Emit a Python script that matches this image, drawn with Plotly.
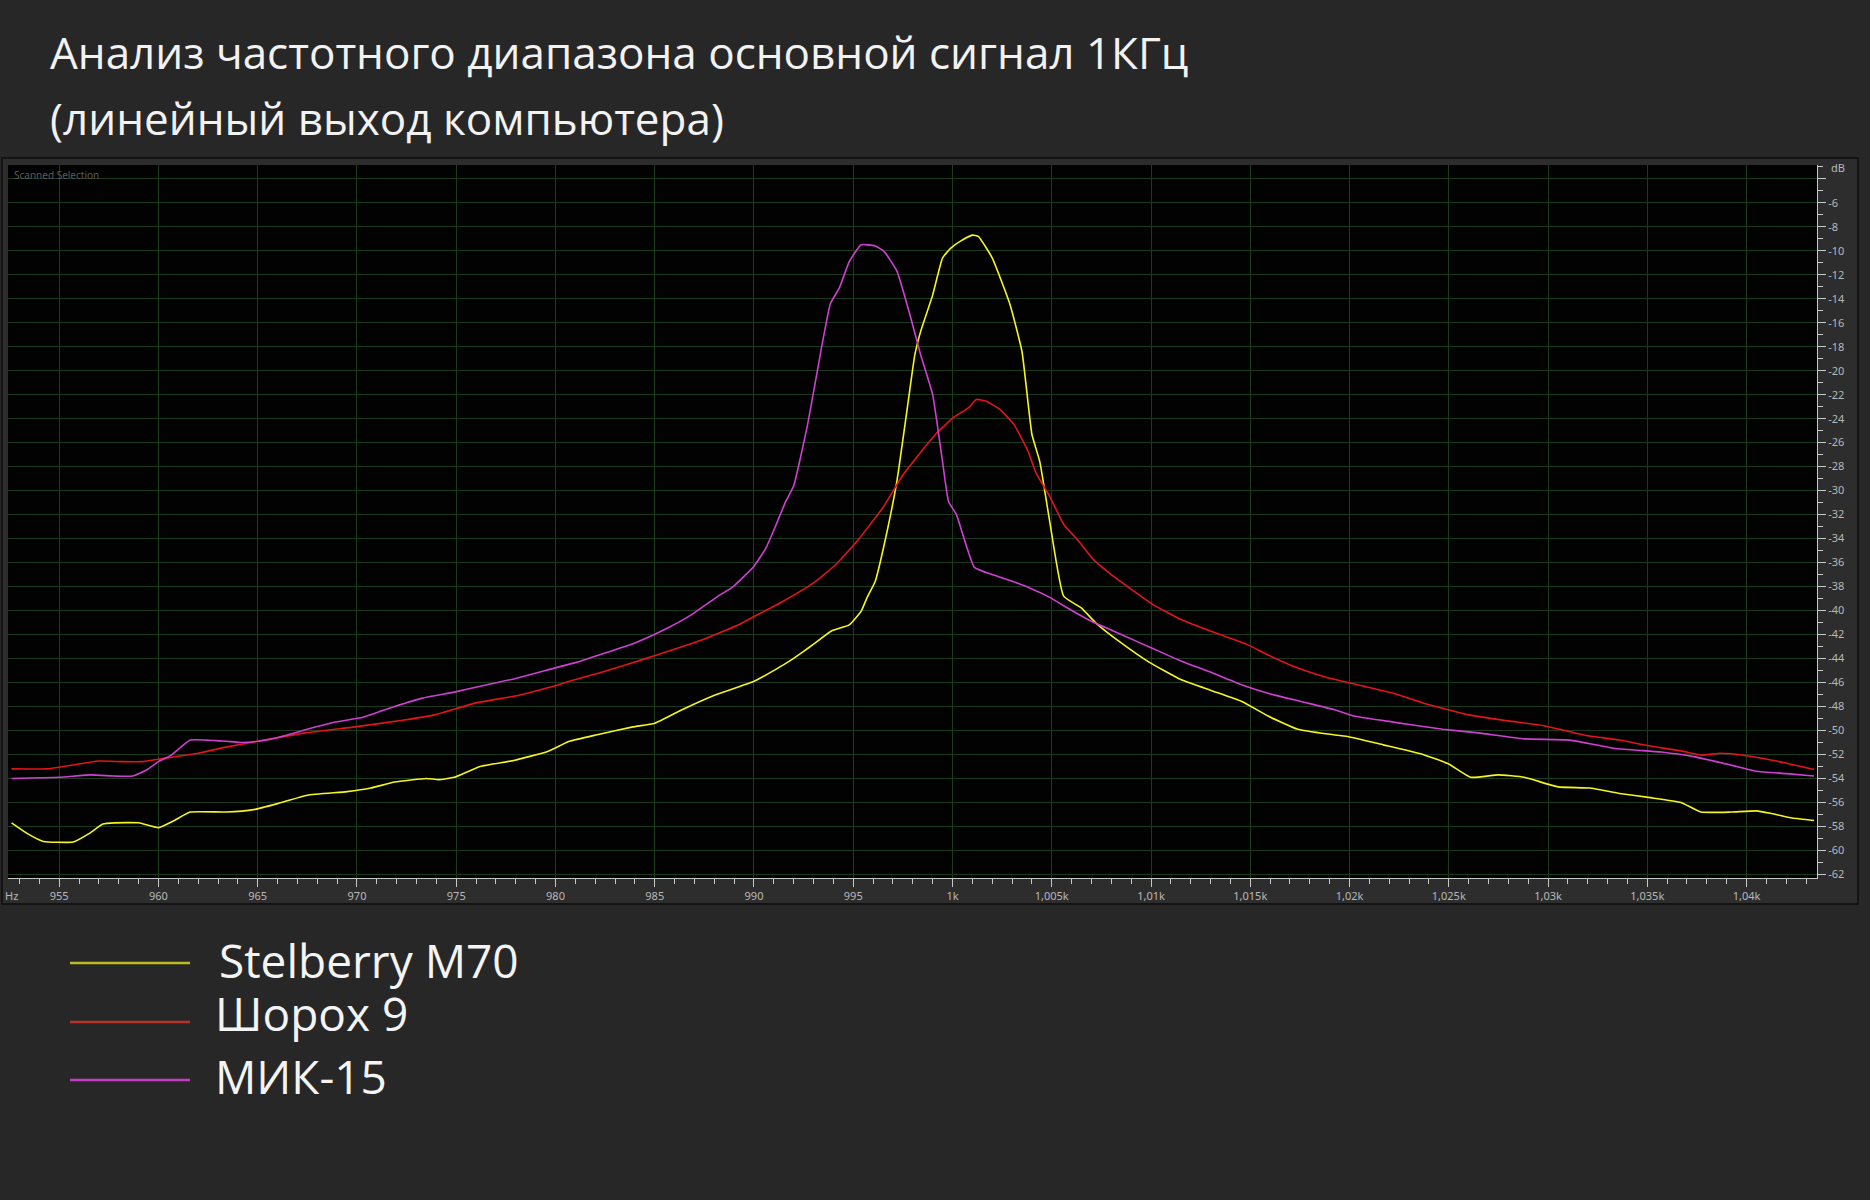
import plotly.graph_objects as go

# ---------------- data ----------------
f_stelberry = [952.6, 953.4, 954.2, 955.7, 956.5, 957.2, 957.8, 959.0, 960.0, 960.8, 961.6, 963.4, 964.8,
               966.0, 967.5, 969.5, 970.7, 971.9, 973.5, 974.1, 974.9, 976.2, 977.9, 979.6, 980.7, 982.1,
               983.9, 985.0, 986.4, 987.95, 990.0, 991.1, 991.8, 992.5, 993.0, 993.9, 994.8, 995.4, 995.7,
               996.1, 996.6, 997.2, 997.7, 998.1, 998.4, 999.0, 999.5, 999.9, 1000.4, 1001.0, 1001.3,
               1002.0, 1002.9, 1003.5, 1004.0, 1004.4, 1004.9, 1005.6, 1006.5, 1007.2, 1008.5, 1009.9,
               1011.5, 1013.1, 1014.6, 1015.9, 1017.4, 1018.9, 1019.9, 1021.7, 1023.7, 1025.0, 1026.1,
               1027.5, 1028.8, 1030.5, 1032.1, 1033.6, 1035.15, 1036.7, 1037.7, 1039.2, 1040.5, 1041.2,
               1042.3, 1043.4]
db_stelberry = [-57.7, -58.6, -59.25, -59.3, -58.6, -57.8, -57.7, -57.7, -58.1, -57.5, -56.8, -56.8, -56.6,
                -56.1, -55.4, -55.1, -54.8, -54.3, -54.0, -54.1, -53.9, -53.0, -52.5, -51.75, -50.9, -50.35,
                -49.7, -49.4, -48.25, -47.1, -45.9, -44.9, -44.2, -43.4, -42.8, -41.7, -41.2, -40.05, -38.9,
                -37.6, -34.2, -29.2, -23.4, -18.7, -16.7, -13.7, -10.6, -9.8, -9.2, -8.7, -8.8,
                -10.6, -14.5, -18.4, -25.3, -27.6, -32.6, -38.8, -39.8, -41.0, -42.7, -44.3,
                -45.75, -46.7, -47.6, -48.8, -49.9, -50.3, -50.5, -51.2, -52.0, -52.8, -53.9,
                -53.7, -53.9, -54.7, -54.8, -55.25, -55.6, -56.0, -56.8, -56.8, -56.7, -56.9,
                -57.3, -57.5]

f_shorox = [952.6, 954.4, 955.6, 957.0, 958.2, 959.2, 960.0, 962.0, 963.2, 965.0, 967.4, 969.9, 972.3,
            973.9, 976.0, 978.05, 979.7, 980.7, 982.2, 983.6, 985.3, 987.3, 989.2, 990.0, 991.5, 993.0,
            994.1, 995.2, 996.5, 997.5, 998.3, 999.15, 1000.05, 1000.8, 1001.2, 1001.7, 1002.4, 1003.1,
            1003.8, 1004.2, 1004.9, 1005.6, 1006.35, 1007.1, 1008.0, 1008.9, 1010.0, 1011.5, 1013.3,
            1014.8, 1015.9, 1017.4, 1018.9, 1020.7, 1022.2, 1023.7, 1026.0, 1028.0, 1029.8, 1031.85,
            1033.6, 1035.15, 1036.7, 1037.7, 1038.7, 1040.0, 1041.5, 1043.4]
db_shorox = [-53.2, -53.2, -52.9, -52.55, -52.6, -52.6, -52.4, -51.9, -51.45, -50.9, -50.2, -49.7, -49.15,
             -48.7, -47.7, -47.1, -46.4, -45.9, -45.2, -44.5, -43.6, -42.5, -41.2, -40.5, -39.2, -37.7,
             -36.2, -34.2, -31.4, -28.7, -27.0, -25.3, -23.9, -23.1, -22.4, -22.55, -23.25, -24.5,
             -26.7, -28.5, -30.5, -32.8, -34.2, -35.75, -37.0, -38.1, -39.4, -40.75, -41.9,
             -42.8, -43.7, -44.8, -45.6, -46.3, -46.9, -47.7, -48.7, -49.2, -49.6, -50.4,
             -50.8, -51.3, -51.7, -52.05, -51.9, -52.1, -52.55, -53.25]

f_mik = [952.6, 955.0, 956.6, 957.8, 958.7, 959.4, 960.0, 960.6, 961.6, 962.4, 963.4, 964.2, 965.0,
         966.0, 967.5, 968.9, 970.3, 971.9, 973.3, 974.9, 976.5, 977.9, 979.5, 981.1, 982.2, 984.0,
         985.6, 986.9, 988.1, 988.95, 990.0, 990.6, 991.1, 991.6, 992.0, 992.7, 993.4, 993.85, 994.3,
         994.8, 995.4, 996.1, 996.55, 997.2, 997.9, 998.4, 999.0, 999.5, 999.8, 1000.2, 1001.1, 1002.0,
         1002.9, 1003.8, 1004.9, 1005.6, 1007.0, 1008.5, 1010.0, 1011.5, 1013.1, 1014.6, 1015.9,
         1017.6, 1019.2, 1020.2, 1022.2, 1024.7, 1026.5, 1028.8, 1031.1, 1033.4, 1035.7, 1037.4,
         1039.5, 1040.5, 1042.0, 1043.4]
db_mik = [-54.0, -53.9, -53.7, -53.8, -53.8, -53.3, -52.6, -52.1, -50.8, -50.8, -50.9, -51.0, -50.9,
          -50.6, -49.9, -49.3, -48.9, -48.0, -47.3, -46.8, -46.2, -45.7, -45.0, -44.3, -43.7, -42.7,
          -41.5, -40.3, -38.9, -38.0, -36.3, -34.8, -32.9, -30.9, -29.6, -24.5, -18.1, -14.4, -13.1,
          -10.9, -9.5, -9.6, -10.05, -11.7, -15.6, -18.7, -22.0, -27.6, -30.9, -32.0, -36.4, -37.0,
          -37.5, -38.05, -38.9, -39.6, -40.9, -42.0, -43.1, -44.2, -45.2, -46.2, -46.9,
          -47.6, -48.25, -48.8, -49.3, -49.9, -50.2, -50.7, -50.8, -51.5, -51.8, -52.2,
          -53.0, -53.4, -53.6, -53.8]

series_names = ["Stelberry M70", "Шорох 9", "МИК-15"]
x_tickvals = [955, 960, 965, 970, 975, 980, 985, 990, 995, 1000, 1005, 1010, 1015, 1020, 1025, 1030, 1035, 1040]
x_ticktext = ["955", "960", "965", "970", "975", "980", "985", "990", "995", "1k", "1,005k", "1,01k",
              "1,015k", "1,02k", "1,025k", "1,03k", "1,035k", "1,04k"]
y_tickvals = list(range(-62, -3, 2))
y_ticktext = [str(v) if v != -4 else "" for v in y_tickvals]

title_line1 = "Анализ частотного диапазона основной сигнал 1КГц"
title_line2 = "(линейный выход компьютера)"

# ---------------- layout geometry (pixels) ----------------
W, H = 1870, 1200
L, R, T, B = 8, 1817, 165, 878


def px(x):
    return (x - L) / (R - L)


def py(y):
    return (B - y) / (B - T)


line_colors = ["#f6f61c", "#e2141c", "#cf40d2"]
legend_colors = ["#bcbc22", "#b8322a", "#c63ac6"]

fig = go.Figure()
for f, d, name, c in zip([f_stelberry, f_shorox, f_mik], [db_stelberry, db_shorox, db_mik],
                         series_names, line_colors):
    fig.add_trace(go.Scatter(x=f, y=d, mode="lines", name=name,
                             line=dict(color=c, width=1.6, shape="spline", smoothing=0.4),
                             showlegend=False))

grid_c = "#1c3a1c"
tick_c = "#b8b8b8"
tick_font = dict(family="Noto Sans, DejaVu Sans, sans-serif", size=11, color=tick_c)

fig.update_layout(
    width=W, height=H,
    margin=dict(l=L, r=W - R, t=T, b=H - B, pad=0),
    paper_bgcolor="#272727",
    plot_bgcolor="#020202",
    xaxis=dict(range=[952.42, 1043.55], tickmode="array", tickvals=x_tickvals, ticktext=x_ticktext,
               showgrid=True, gridcolor=grid_c, gridwidth=1, zeroline=False,
               showline=True, linecolor="#c8c8c8", linewidth=1,
               ticks="outside", ticklen=8, tickcolor="#c8c8c8", tickfont=tick_font,
               minor=dict(tickmode="linear", tick0=955, dtick=1, ticks="outside", ticklen=5,
                          tickcolor="#c8c8c8", showgrid=False),
               fixedrange=True),
    yaxis=dict(range=[-62.3, -2.85], side="right", tickmode="array", tickvals=y_tickvals,
               ticktext=y_ticktext, showgrid=True, gridcolor=grid_c, gridwidth=1, zeroline=False,
               showline=True, linecolor="#c8c8c8", linewidth=1,
               ticks="outside", ticklen=8, tickcolor="#c8c8c8", tickfont=tick_font,
               minor=dict(tickmode="linear", tick0=-62, dtick=1, ticks="outside", ticklen=5,
                          tickcolor="#c8c8c8", showgrid=False),
               fixedrange=True),
)

# spectrum panel: four strips around the black plot area, then a frame
panel_fill = "#2d2d2d"
for x0, x1, y0, y1 in [(2, 1858, 158, T), (2, 1858, B, 904), (2, L, T, B), (R, 1858, T, B)]:
    fig.add_shape(type="rect", xref="paper", yref="paper", x0=px(x0), x1=px(x1), y0=py(y1), y1=py(y0),
                  fillcolor=panel_fill, line=dict(width=0), layer="below")
fig.add_shape(type="rect", xref="paper", yref="paper", x0=px(2), x1=px(1858), y0=py(904), y1=py(158),
              fillcolor="rgba(0,0,0,0)", line=dict(color="#141414", width=2), layer="below")

title_font = dict(family="Open Sans, Noto Sans, sans-serif", size=44, color="#f2f2f2")
annotations = [
    dict(text=title_line1, x=px(48), y=py(52), xanchor="left", yanchor="middle", font=title_font),
    dict(text=title_line2, x=px(48), y=py(118), xanchor="left", yanchor="middle", font=title_font),
    dict(text="Scanned Selection", x=px(12), y=py(175), xanchor="left", yanchor="middle",
         font=dict(family="Noto Sans, sans-serif", size=10, color="#5a5a5a")),
    dict(text="Hz", x=px(3), y=py(895), xanchor="left", yanchor="middle", font=tick_font),
    dict(text="dB", x=px(1829), y=py(168), xanchor="left", yanchor="middle", font=tick_font),
]

legend_y = [960, 1013, 1076]
legend_x = [217, 213, 213]
legend_line_y = [963, 1022, 1080]
for name, c, tx, ty, ly in zip(series_names, legend_colors, legend_x, legend_y, legend_line_y):
    fig.add_shape(type="line", xref="paper", yref="paper", x0=px(70), x1=px(190), y0=py(ly), y1=py(ly),
                  line=dict(color=c, width=2.5))
    annotations.append(dict(text=name, x=px(tx), y=py(ty), xanchor="left", yanchor="middle",
                            font=dict(family="Open Sans, Noto Sans, sans-serif", size=46, color="#f4f4f4")))

for a in annotations:
    a.update(xref="paper", yref="paper", showarrow=False)
fig.update_layout(annotations=annotations)

fig.write_html("out.html", config={"displayModeBar": False},
               post_script="document.body.style.margin='0';")
